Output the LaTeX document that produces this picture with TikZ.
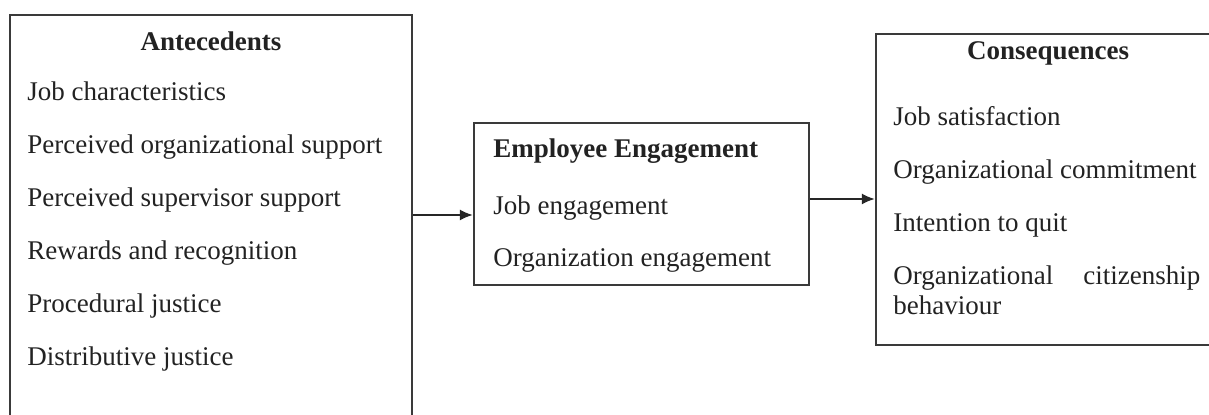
\documentclass[tikz,border=0pt]{standalone}
\usepackage{fontspec}
\setmainfont{Liberation Serif}
\usetikzlibrary{arrows.meta,calc}
\definecolor{ink}{HTML}{222222}
\definecolor{edge}{HTML}{3A3A3A}
\tikzset{
  box/.style={draw=edge, line width=1.1pt, rectangle, inner sep=0pt},
  txt/.style={anchor=base west, inner sep=0pt, text=ink, font=\fontsize{13.5}{15}\selectfont},
  head/.style={anchor=base, inner sep=0pt, text=ink, font=\fontsize{13.5}{15}\selectfont\bfseries},
  arr/.style={draw=black!85, line width=1pt, -{Latex[length=6.5pt,width=5.5pt]}}
}
\begin{document}
\begin{tikzpicture}[x=0.5pt,y=-0.5pt]
\useasboundingbox (0,0) rectangle (1209,415);
\clip (0,0) rectangle (1209,415);
% boxes
\node[box, minimum width=201pt, minimum height=212.5pt] (ant) at (211,227.5) {};
\node[box, minimum width=167.5pt, minimum height=81pt] (eng) at (641.5,204) {};
\node[box, minimum width=172pt, minimum height=155.5pt] (con) at (1048,189.5) {};
% antecedents
\node[head] (anth) at (211,51) {Antecedents};
\node[txt] (a1) at (27,101) {Job characteristics};
\node[txt] (a2) at (27,154) {Perceived organizational support};
\node[txt] (a3) at (27,207) {Perceived supervisor support};
\node[txt] (a4) at (27,260) {Rewards and recognition};
\node[txt] (a5) at (27,313) {Procedural justice};
\node[txt] (a6) at (27,366) {Distributive justice};
% engagement
\node[txt, font=\fontsize{13.5}{15}\selectfont\bfseries] (engh) at (493,158) {Employee Engagement};
\node[txt] (e1) at (493,215) {Job engagement};
\node[txt] (e2) at (493,267) {Organization engagement};
% consequences
\node[head] (conh) at (1048,60) {Consequences};
\node[txt] (c1) at (893,126) {Job satisfaction};
\node[txt] (c2) at (893,179) {Organizational commitment};
\node[txt] (c3) at (893,232) {Intention to quit};
\node[txt, text width=153.5pt, align=justify, anchor=base west] (c4) at (893,285) {Organizational\hfill citizenship\\behaviour};
% connectors
\draw[arr] (ant.east |- e1.base) -- (eng.west |- e1.base);
\coordinate (j2) at (0,199);
\draw[arr] (eng.east |- j2) -- (con.west |- j2);
\end{tikzpicture}
\end{document}
